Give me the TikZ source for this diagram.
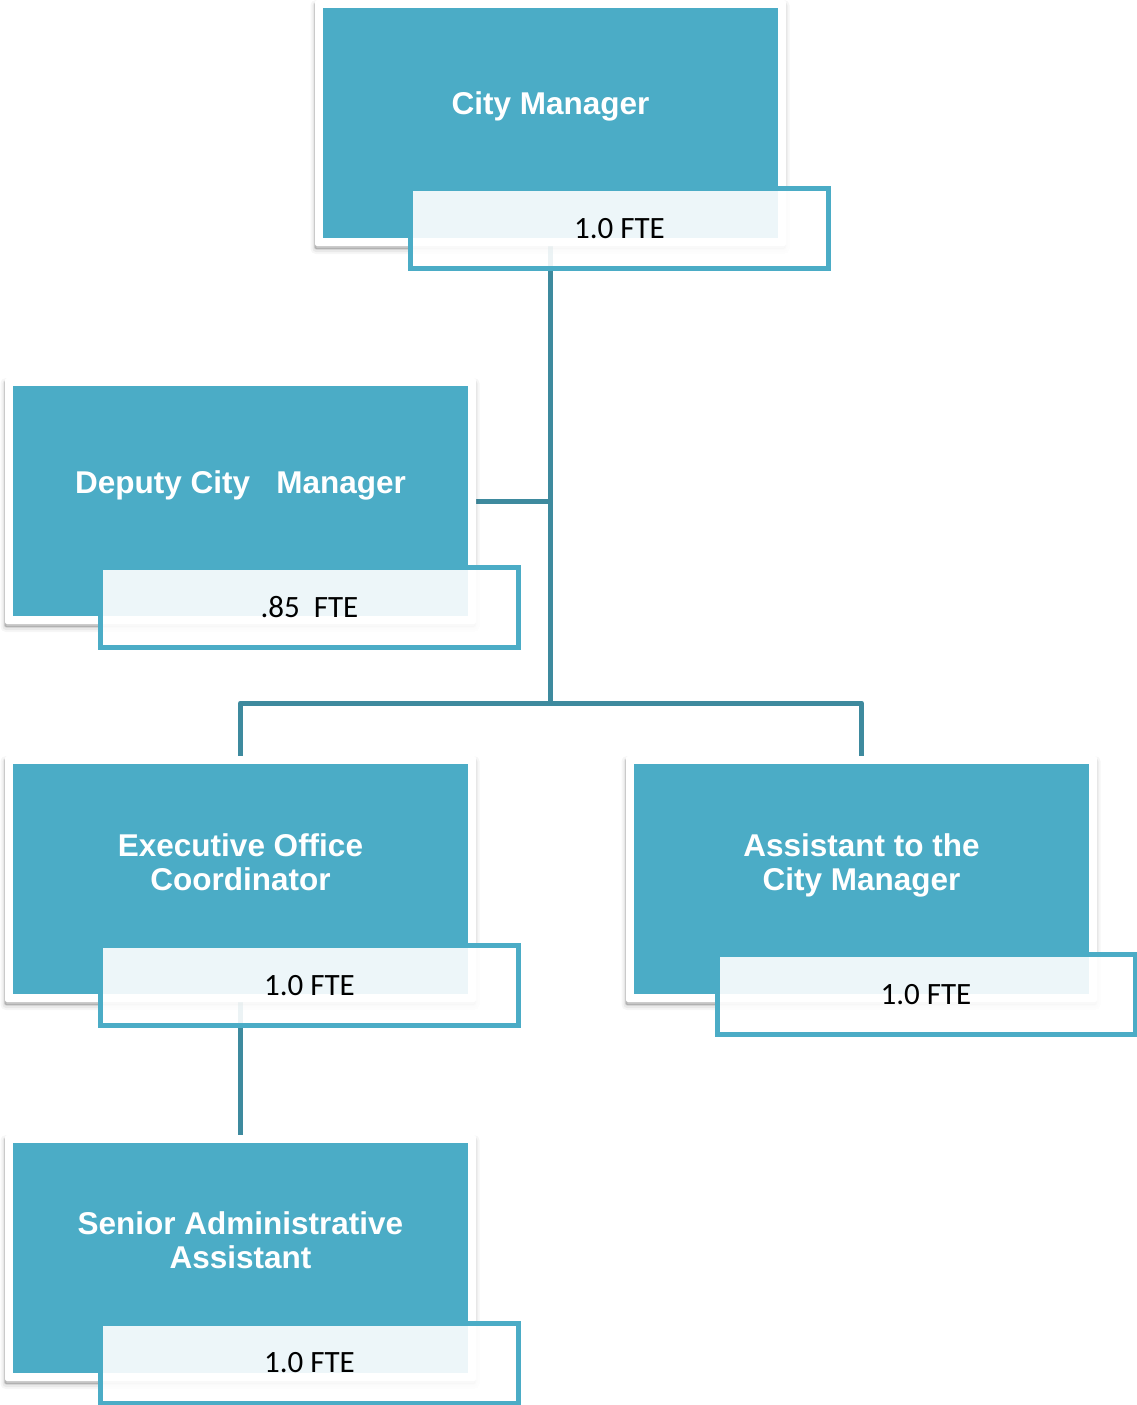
\documentclass[tikz,border=0pt]{standalone}
\usepackage{fontspec}
\setmainfont{Liberation Sans}
\newfontfamily\ftefont{Carlito}
\usetikzlibrary{calc}
\pgfdeclarelayer{background}
\pgfsetlayers{background,main}
\definecolor{boxblue}{HTML}{4BACC6}
\definecolor{linkteal}{HTML}{3E8A9E}
\tikzset{
  frame/.style={fill=white, rounded corners=2pt, minimum width=471pt, minimum height=246pt,
    inner sep=0pt, outer sep=0pt,
    preaction={draw=black, draw opacity=.035, line width=8pt, transform canvas={xshift=-0.5pt,yshift=-4pt}},
    preaction={draw=black, draw opacity=.05, line width=4pt, transform canvas={xshift=-0.5pt,yshift=-4pt}},
    preaction={draw=black, draw opacity=.07, line width=1.5pt, fill=black, fill opacity=.2, transform canvas={xshift=-0.5pt,yshift=-3pt}}},
  role/.style={fill=boxblue, minimum width=455pt, minimum height=230pt, inner sep=0pt, outer sep=0pt},
  title/.style={text=white, font=\fontsize{31.5}{34}\selectfont\bfseries, align=center, inner sep=0pt},
  fte/.style={draw=boxblue, line width=5pt, fill=white, fill opacity=.9, text opacity=1,
    minimum width=418pt, minimum height=80pt, inner sep=0pt,
    font=\ftefont\fontsize{31}{34}\selectfont, text=black},
  link/.style={draw=linkteal, line width=5pt, line join=round}
}
\begin{document}
\begin{tikzpicture}[x=1pt, y=-1pt]
\useasboundingbox (0,0) rectangle (1136,1405);

% City Manager
\node[frame] (f1) at (550.5,123) {};
\node[role] (b1) at (550.5,123) {};
\node[title] (t1) at (550.5,106) {City Manager};
\node[fte] (e1) at (619.5,228.5) {1.0 FTE};

% Deputy City Manager
\node[frame] (f2) at (240.5,501) {};
\node[role] (b2) at (240.5,501) {};
\node[title] (t2) at (240.5,485) {Deputy City\ \ \ Manager};
\node[fte] (e2) at (309.5,607.5) {.85\ \ FTE};

% Executive Office Coordinator
\node[frame] (f3) at (240.5,879) {};
\node[role] (b3) at (240.5,879) {};
\node[title] (t3) at (240.5,862) {Executive Office\\Coordinator};
\node[fte] (e3) at (309.5,985.5) {1.0 FTE};

% Assistant to the City Manager
\node[frame] (f4) at (861.5,879) {};
\node[role] (b4) at (861.5,879) {};
\node[title] (t4) at (861.5,865) {Assistant to the\\City Manager};
\node[fte] (e4) at (926,994.5) {1.0 FTE};

% Senior Administrative Assistant
\node[frame] (f5) at (240.5,1258) {};
\node[role] (b5) at (240.5,1258) {};
\node[title] (t5) at (240.5,1240.5) {Senior Administrative\\Assistant};
\node[fte] (e5) at (309.5,1363) {1.0 FTE};

\begin{pgfonlayer}{background}
  \coordinate (j1) at (550.5,703);
  \draw[link] (b1.center) -- (j1);
  \draw[link] (b2.center) -- (b2.center -| j1);
  \draw[link] (b3.center) |- (j1) -| (b4.center);
  \draw[link] (b3.center) -- (b5.center);
\end{pgfonlayer}
\end{tikzpicture}
\end{document}
